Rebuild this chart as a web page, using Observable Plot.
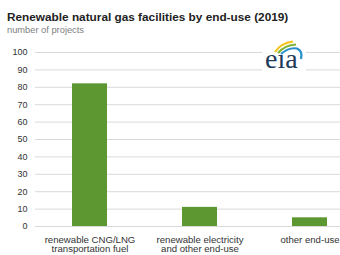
<!DOCTYPE html>
<html>
<head>
<meta charset="utf-8">
<script src="https://cdn.jsdelivr.net/npm/d3@7"></script>
<script src="https://cdn.jsdelivr.net/npm/@observablehq/plot@0.6"></script>
<style>
  html, body { margin: 0; padding: 0; background: #fff; }
  #wrap { position: relative; width: 340px; height: 255px; overflow: hidden; font-family: "Liberation Sans", Arial, sans-serif; }
  #title { position: absolute; left: 7px; top: 10px; font-size: 11.8px; font-weight: bold; color: #222; white-space: nowrap; line-height: 14px; }
  #subtitle { position: absolute; left: 7px; top: 25px; font-size: 9.3px; color: #808080; white-space: nowrap; line-height: 10px; }
  #chart { position: absolute; left: 0; top: 40px; }
  #logo { position: absolute; left: 260px; top: 38px; }
</style>
</head>
<body>
<div id="wrap">
  <div id="title">Renewable natural gas facilities by end-use (2019)</div>
  <div id="subtitle">number of projects</div>
  <div id="chart"></div>
  <svg id="logo" width="48" height="40" viewBox="0 0 48 40">
    <rect x="2" y="10" width="44" height="30" fill="#fff"></rect>
    <text x="5" y="30" font-family="Liberation Serif, DejaVu Serif, serif" font-size="28" fill="#1d3b5a">eia</text>
    <rect x="16" y="9" width="9" height="6" fill="#fff"></rect>
    <path d="M15 14 Q21 5 33 3.5" stroke="#f2c31a" stroke-width="2.2" fill="none"></path>
    <path d="M18 15 Q25 7 36 6.5" stroke="#7fb539" stroke-width="2.2" fill="none"></path>
    <path d="M21 16 Q29 9 37 10.5 Q43 13 41 21" stroke="#2a8fcf" stroke-width="2.2" fill="none"></path>
  </svg>
</div>
<script>
const categories = ["renewable CNG/LNG\ntransportation fuel", "renewable electricity\nand other end-use", "other end-use"];
const projects = [82, 11, 5];
const yTicks = [0, 10, 20, 30, 40, 50, 60, 70, 80, 90, 100];

const data = categories.map((c, i) => ({category: c, value: projects[i]}));

const chart = Plot.plot({
  width: 340,
  height: 215,
  marginLeft: 35,
  marginRight: 0,
  marginTop: 12,
  marginBottom: 29,
  style: {fontFamily: "Liberation Sans, Arial, sans-serif", background: "transparent"},
  x: {domain: categories, range: [35, 365], paddingInner: 0.68, paddingOuter: 0.34, label: null},
  y: {domain: [0, 100], label: null},
  marks: [
    Plot.ruleY(yTicks, {stroke: "#d9d9d9", strokeWidth: 1}),
    Plot.barY(data, {x: "category", y: "value", fill: "#5d9732"}),
    Plot.axisY({ticks: yTicks, tickSize: 0, tickPadding: 8, fontSize: 9, fill: "#333", label: null}),
    Plot.axisX({tickSize: 0, tickPadding: 9.5, fontSize: 9.6, fill: "#333", lineHeight: 1.0, label: null})
  ]
});
document.getElementById("chart").appendChild(chart);
</script>
</body>
</html>
